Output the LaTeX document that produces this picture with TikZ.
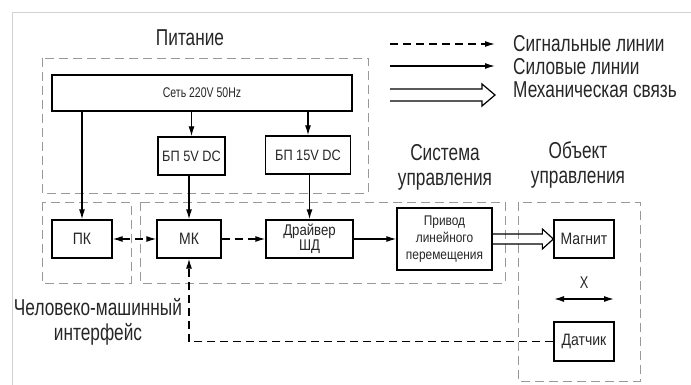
\documentclass[tikz,border=0pt]{standalone}
\usepackage{fontspec}
\setmainfont{Liberation Sans}[FakeStretch=0.75]
\newfontfamily\boxfont{Liberation Sans}[FakeStretch=0.85]
\usetikzlibrary{arrows.meta,calc}
\begin{document}
\begin{tikzpicture}[x=1pt,y=-1pt,
  blk/.style={draw=black,line width=1.3pt,fill=white,inner sep=0pt,font=\boxfont\fontsize{16.5}{17}\selectfont,text=black!85,align=center},
  grp/.style={draw=black!40,line width=0.8pt,dash pattern=on 9pt off 5pt},
  lbl/.style={font=\fontsize{23}{25}\selectfont,text=black!85,align=center,inner sep=0pt},
  sig/.style={line width=1.3pt,dash pattern=on 8pt off 5pt,-{Latex[length=10pt,width=6pt]}},
  pwr/.style={line width=1.3pt,-{Latex[length=10pt,width=6pt]}},
  mech/.style={line width=1.2pt,line join=miter},
  frm/.style={draw=black!18,line width=0.8pt}]
\useasboundingbox (0,0) rectangle (691,385);
\draw[frm] (12,385) -- (12,12) -- (691,12);
% group frames
\draw[grp] (42,58) rectangle (368,193);
\draw[grp] (42,202) rectangle (131,283);
\draw[grp] (140,202) rectangle (505,283);
\draw[grp] (518,202) rectangle (640,381);
% labels
\node[lbl] (lpit) at (190,38) {Питание};
\node[lbl] (lsys) at (445,167) {Система\\управления};
\node[lbl] (lobj) at (578,165) {Объект\\управления};
\node[lbl] (lhmi) at (98,322) {Человеко-машинный\\интерфейс};
% blocks
\node[blk,minimum width=300pt,minimum height=36pt,font=\fontsize{14}{15}\selectfont] (set) at (202,93) {Сеть 220V 50Hz};
\node[blk,minimum width=67pt,minimum height=38pt,font=\boxfont\fontsize{15}{16}\selectfont] (bp5) at (191.5,156) {БП 5V DC};
\node[blk,minimum width=85pt,minimum height=38pt,font=\boxfont\fontsize{15}{16}\selectfont] (bp15) at (308,155) {БП 15V DC};
\node[blk,minimum width=60pt,minimum height=38pt] (pk) at (82,239) {ПК};
\node[blk,minimum width=64pt,minimum height=38pt] (mk) at (189,239) {МК};
\node[blk,minimum width=87pt,minimum height=38pt,font=\boxfont\fontsize{15.5}{15}\selectfont] (drv) at (309.5,239) {Драйвер\\ШД};
\node[blk,minimum width=95pt,minimum height=62pt,font=\boxfont\fontsize{14}{17}\selectfont] (priv) at (444.5,239) {Привод\\линейного\\перемещения};
\node[blk,minimum width=60pt,minimum height=38pt] (mag) at (584,239) {Магнит};
\node[blk,minimum width=60pt,minimum height=39pt] (dat) at (584,341.5) {Датчик};
\node[lbl,font=\fontsize{17}{18}\selectfont] (xl) at (584,283) {X};
% connectors
\draw[pwr] (set.south -| pk) -- (pk.north);
\draw[pwr] (set.south -| bp5) -- (bp5.north);
\draw[pwr] (set.south -| bp15) -- (bp15.north);
\draw[pwr] (bp5.south -| mk) -- (mk.north);
\draw[pwr] (bp15.south -| drv) -- (drv.north);
\draw[sig,{Latex[length=10pt,width=6pt]}-{Latex[length=10pt,width=6pt]}] (pk) -- (mk);
\draw[sig] (mk) -- (drv);
\draw[pwr] (drv) -- (priv);
\draw[mech] ($(priv.east)+(0,-5)$) -- ($(mag.west)+(-11,-5)$) -- ++(0,-5) -- (mag.west)
  -- ($(mag.west)+(-11,10)$) -- ++(0,-5) -- ($(priv.east)+(0,5)$);
\draw[sig] (dat.west) -| (mk.south);
\coordinate (xa) at (554,299);
\coordinate (xb) at (614,299);
\draw[line width=1.3pt,{Latex[length=10pt,width=6pt]}-{Latex[length=10pt,width=6pt]}] (xa) -- (xb);
% legend
\coordinate (l1a) at (390,44); \coordinate (l1b) at (495,44);
\coordinate (l2a) at (390,66); \coordinate (l2b) at (495,66);
\coordinate (l3a) at (390,95); \coordinate (l3b) at (495,95);
\draw[sig] (l1a) -- (l1b);
\draw[pwr] (l2a) -- (l2b);
\draw[mech] ($(l3a)+(0,-6)$) -- ($(l3b)+(-13,-6)$) -- ++(0,-5) -- (l3b)
  -- ($(l3b)+(-13,11)$) -- ++(0,-5) -- ($(l3a)+(0,6)$);
\node[lbl,anchor=west] (t1) at (513,44) {Сигнальные линии};
\node[lbl,anchor=west] (t2) at (513,67) {Силовые линии};
\node[lbl,anchor=west] (t3) at (513,90) {Механическая связь};
\end{tikzpicture}
\end{document}
